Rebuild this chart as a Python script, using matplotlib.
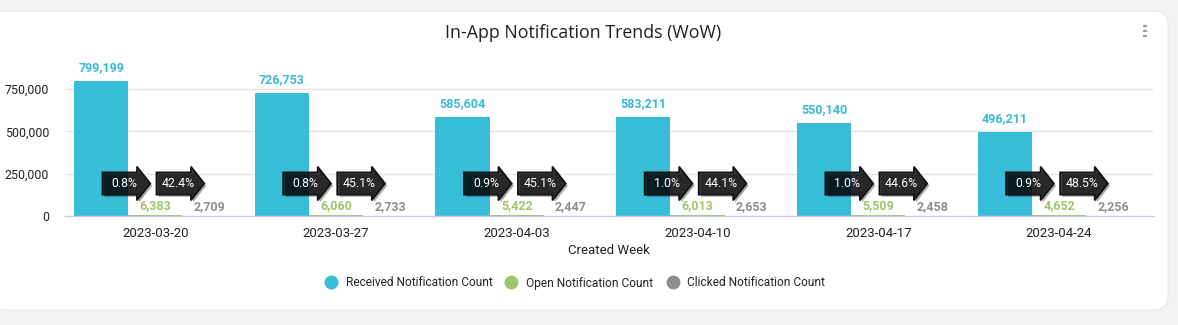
import matplotlib
matplotlib.use("Agg")
import matplotlib.pyplot as plt
import numpy as np
from matplotlib.patches import FancyBboxPatch, Polygon, Circle
from matplotlib.lines import Line2D
import matplotlib.patheffects as pe

weeks = ["2023-03-20", "2023-03-27", "2023-04-03", "2023-04-10", "2023-04-17", "2023-04-24"]
received = [799199, 726753, 585604, 583211, 550140, 496211]
opened = [6383, 6060, 5422, 6013, 5509, 4652]
clicked = [2709, 2733, 2447, 2653, 2458, 2256]
open_rate = ["0.8%", "0.8%", "0.9%", "1.0%", "1.0%", "0.9%"]
click_rate = ["42.4%", "45.1%", "45.1%", "44.1%", "44.6%", "48.5%"]
yticks = [0, 250000, 500000, 750000]

c_rec = "#38bdd9"
c_open = "#9dc56a"
c_click = "#8f8f8f"

plt.rcParams['font.family'] = ['Roboto', 'DejaVu Sans']

fig = plt.figure(figsize=(11.78, 3.25), dpi=100)
fig.patch.set_facecolor("#f3f3f3")

# card
card = FancyBboxPatch((-0.01, 0.046), 1168/1178 + 0.01, 0.966 - 0.046,
                      boxstyle="round,pad=0,rounding_size=0.012",
                      transform=fig.transFigure, facecolor="white",
                      edgecolor="#e8e8e8", linewidth=0.8, zorder=-10,
                      mutation_aspect=1178/325)
fig.patches.append(card)

ax = fig.add_axes([65/1178, 1 - 216/325, (1153 - 65)/1178, 152.3/325])
ax.set_zorder(5)
ax.set_facecolor("none")
x = np.arange(len(weeks))
w = 0.3
ax.bar(x - w, received, w, color=c_rec, zorder=2)
ax.bar(x, opened, w, color=c_open, zorder=2)
ax.bar(x + w, clicked, w, color=c_click, zorder=2)

ax.set_xlim(-0.5, 5.52)
ax.set_ylim(0, 900000)
ax.set_yticks(yticks)
ax.set_yticklabels([f"{v:,}" for v in yticks], fontsize=8.9, color="#222222")
ax.set_xticks(x)
ax.set_xticklabels(weeks, fontsize=9.5, color="#222222")
ax.tick_params(axis='both', length=0)
ax.tick_params(axis='y', pad=11.5)
ax.tick_params(axis='x', pad=8)
for s in ["top", "right", "left"]:
    ax.spines[s].set_visible(False)
ax.spines["bottom"].set_color("#c8cedf")
ax.spines["bottom"].set_linewidth(1)
for v in yticks[1:]:
    ax.axhline(v, color="#e3e3e3", lw=1, zorder=1)
ax.set_xlabel("Created Week", fontsize=9.5, color="#222222", labelpad=3)

for i in range(len(weeks)):
    ax.annotate(f"{received[i]:,}", (x[i] - w, received[i]), xytext=(0, 5),
                textcoords="offset points", ha="center", va="bottom",
                fontsize=9, fontweight="bold", color="#3ab9d6", zorder=8)
    ax.annotate(f"{opened[i]:,}", (x[i], opened[i]), xytext=(0, 2),
                textcoords="offset points", ha="center", va="bottom",
                fontsize=9, fontweight="bold", color=c_open, zorder=8)
    ax.annotate(f"{clicked[i]:,}", (x[i] + w, clicked[i]), xytext=(0, 2),
                textcoords="offset points", ha="center", va="bottom",
                fontsize=9, fontweight="bold", color=c_click, zorder=8)

# arrows
yc = 192000
bh = 66000
hh = 100000
def draw_arrow(x0, x1, label):
    xb = x1 - 0.074
    pts = [(x0, yc - bh), (xb, yc - bh), (xb, yc - hh), (x1, yc),
           (xb, yc + hh), (xb, yc + bh), (x0, yc + bh)]
    poly = Polygon(pts, closed=True, facecolor=(0, 0, 0, 0.76),
                   edgecolor="#111111", linewidth=1.2, zorder=6,
                   joinstyle="miter",
                   path_effects=[pe.SimplePatchShadow(offset=(1.5, -1.5), alpha=0.35),
                                 pe.Normal()])
    ax.add_patch(poly)
    ax.text((x0 + x1) / 2 - 0.01, yc, label, ha="center", va="center",
            color="white", fontsize=8.8, zorder=7)

for i in range(len(weeks)):
    draw_arrow(x[i] - 0.293, x[i] - 0.028, open_rate[i])
    draw_arrow(x[i] + 0.006, x[i] + 0.271, click_rate[i])

fig.text(583/1178, 1 - 33/325, "In-App Notification Trends (WoW)",
         ha="center", va="center", fontsize=12.8, color="#202124",
         family=['Open Sans', 'DejaVu Sans'])

# menu dots
for yy in (26, 31, 36):
    fig.patches.append(Circle((1145/1178, 1 - yy/325), 0.0013,
                       transform=fig.transFigure, color="#9a9a9a", zorder=1))

handles = [Line2D([], [], marker="o", ls="", markersize=9, color=c)
           for c in (c_rec, c_open, c_click)]
fig.legend(handles, ["Received Notification Count", "Open Notification Count",
                     "Clicked Notification Count"],
           loc="center", bbox_to_anchor=(575/1178, 1 - 283/325), ncol=3,
           frameon=False, fontsize=8.6, handlelength=1.0, handletextpad=0.75,
           columnspacing=1.1, labelcolor="#222222")

fig.savefig("out.png", dpi=100, facecolor=fig.get_facecolor())
